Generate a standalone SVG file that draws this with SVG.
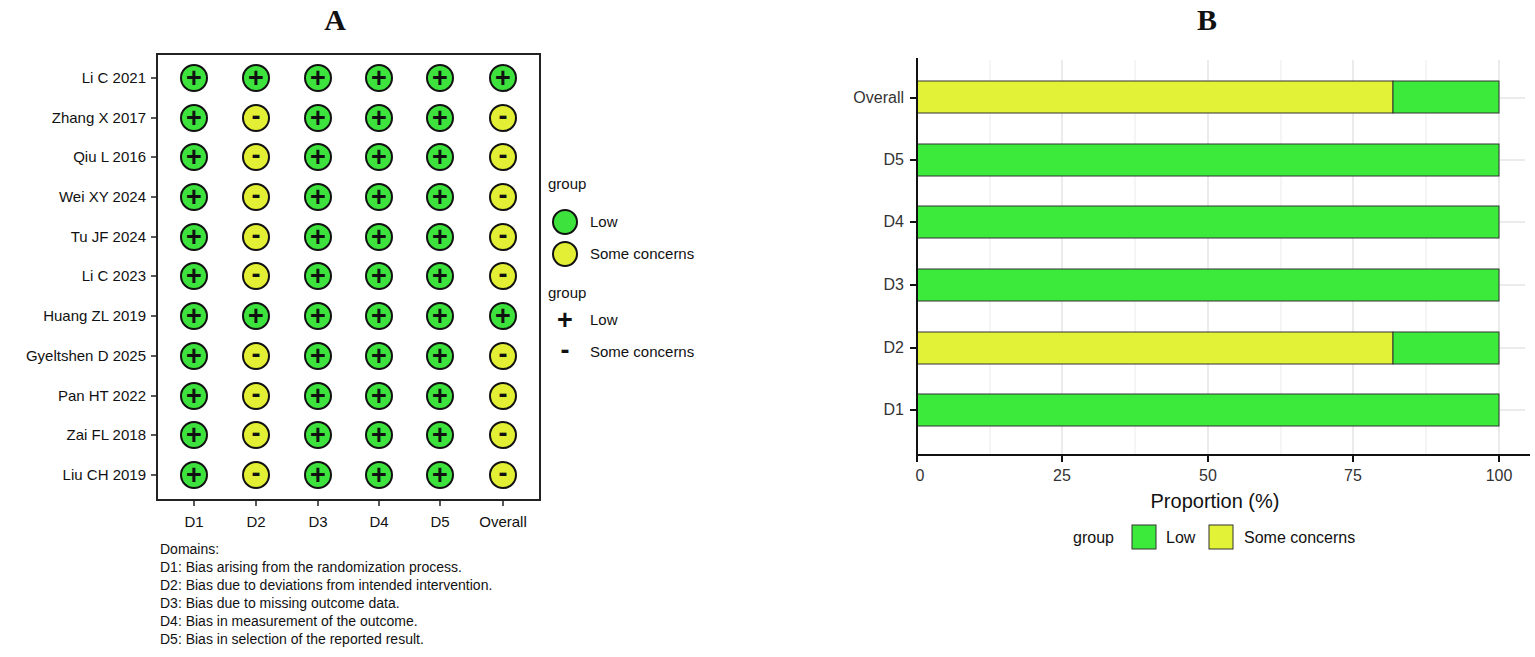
<svg xmlns="http://www.w3.org/2000/svg" width="1535" height="657" viewBox="0 0 1535 657">
<style>
text{font-family:"Liberation Sans",Arial,sans-serif;fill:#111}
.t{font-family:"Liberation Serif","Times New Roman",serif;font-weight:bold;font-size:30px}
.rl{font-size:15px;text-anchor:end}
.cl{font-size:15px;text-anchor:middle}
.dm{font-size:14px}
.lg{font-size:15px}
.g{fill:#3de23d;stroke:#111;stroke-width:2}
.y{fill:#e2ef34;stroke:#111;stroke-width:2}
.s{font-size:27px;font-weight:bold;text-anchor:middle}
.bg{fill:#3bea3b;stroke:#333;stroke-width:1}
.by{fill:#e2f236;stroke:#333;stroke-width:1}
.grid{stroke:#ebebeb;stroke-width:2}
.bl{font-size:16px;text-anchor:end;fill:#333}
.tk{font-size:16px;text-anchor:middle;fill:#333}
</style>
<rect width="1535" height="657" fill="#fff"/>
<text class="t" x="335" y="30" text-anchor="middle">A</text>
<text class="t" x="1207" y="30" text-anchor="middle">B</text>
<g id="panelA">
<rect x="157" y="54" width="383" height="446" fill="#fff" stroke="#222" stroke-width="2"/>
<g stroke="#222" stroke-width="1.5">
<line x1="151" y1="78" x2="157" y2="78"/><line x1="151" y1="118" x2="157" y2="118"/><line x1="151" y1="157" x2="157" y2="157"/><line x1="151" y1="197" x2="157" y2="197"/><line x1="151" y1="237" x2="157" y2="237"/><line x1="151" y1="276" x2="157" y2="276"/><line x1="151" y1="316" x2="157" y2="316"/><line x1="151" y1="356" x2="157" y2="356"/><line x1="151" y1="396" x2="157" y2="396"/><line x1="151" y1="435" x2="157" y2="435"/><line x1="151" y1="475" x2="157" y2="475"/>
<line x1="194" y1="500" x2="194" y2="506"/><line x1="256" y1="500" x2="256" y2="506"/><line x1="318" y1="500" x2="318" y2="506"/><line x1="379" y1="500" x2="379" y2="506"/><line x1="440" y1="500" x2="440" y2="506"/><line x1="503" y1="500" x2="503" y2="506"/>
</g>
<text class="rl" x="146" y="83">Li C 2021</text>
<text class="rl" x="146" y="123">Zhang X 2017</text>
<text class="rl" x="146" y="162">Qiu L 2016</text>
<text class="rl" x="146" y="202">Wei XY 2024</text>
<text class="rl" x="146" y="242">Tu JF 2024</text>
<text class="rl" x="146" y="281">Li C 2023</text>
<text class="rl" x="146" y="321">Huang ZL 2019</text>
<text class="rl" x="146" y="361">Gyeltshen D 2025</text>
<text class="rl" x="146" y="401">Pan HT 2022</text>
<text class="rl" x="146" y="440">Zai FL 2018</text>
<text class="rl" x="146" y="480">Liu CH 2019</text>
<text class="cl" x="194" y="527">D1</text><text class="cl" x="256" y="527">D2</text><text class="cl" x="318" y="527">D3</text><text class="cl" x="379" y="527">D4</text><text class="cl" x="440" y="527">D5</text><text class="cl" x="503" y="527">Overall</text>
<g id="cells">
<g transform="translate(0,78)"><circle class="g" cx="194" r="13"/><circle class="g" cx="256" r="13"/><circle class="g" cx="318" r="13"/><circle class="g" cx="379" r="13"/><circle class="g" cx="440" r="13"/><circle class="g" cx="503" r="13"/>
<text class="s" x="194" y="9">+</text><text class="s" x="256" y="9">+</text><text class="s" x="318" y="9">+</text><text class="s" x="379" y="9">+</text><text class="s" x="440" y="9">+</text><text class="s" x="503" y="9">+</text></g>
<g transform="translate(0,316)"><circle class="g" cx="194" r="13"/><circle class="g" cx="256" r="13"/><circle class="g" cx="318" r="13"/><circle class="g" cx="379" r="13"/><circle class="g" cx="440" r="13"/><circle class="g" cx="503" r="13"/>
<text class="s" x="194" y="9">+</text><text class="s" x="256" y="9">+</text><text class="s" x="318" y="9">+</text><text class="s" x="379" y="9">+</text><text class="s" x="440" y="9">+</text><text class="s" x="503" y="9">+</text></g>
<g transform="translate(0,118)"><circle class="g" cx="194" r="13"/><circle class="y" cx="256" r="13"/><circle class="g" cx="318" r="13"/><circle class="g" cx="379" r="13"/><circle class="g" cx="440" r="13"/><circle class="y" cx="503" r="13"/>
<text class="s" x="194" y="9">+</text><text class="s" x="256" y="7">-</text><text class="s" x="318" y="9">+</text><text class="s" x="379" y="9">+</text><text class="s" x="440" y="9">+</text><text class="s" x="503" y="7">-</text></g>
<g transform="translate(0,157)"><circle class="g" cx="194" r="13"/><circle class="y" cx="256" r="13"/><circle class="g" cx="318" r="13"/><circle class="g" cx="379" r="13"/><circle class="g" cx="440" r="13"/><circle class="y" cx="503" r="13"/>
<text class="s" x="194" y="9">+</text><text class="s" x="256" y="7">-</text><text class="s" x="318" y="9">+</text><text class="s" x="379" y="9">+</text><text class="s" x="440" y="9">+</text><text class="s" x="503" y="7">-</text></g>
<g transform="translate(0,197)"><circle class="g" cx="194" r="13"/><circle class="y" cx="256" r="13"/><circle class="g" cx="318" r="13"/><circle class="g" cx="379" r="13"/><circle class="g" cx="440" r="13"/><circle class="y" cx="503" r="13"/>
<text class="s" x="194" y="9">+</text><text class="s" x="256" y="7">-</text><text class="s" x="318" y="9">+</text><text class="s" x="379" y="9">+</text><text class="s" x="440" y="9">+</text><text class="s" x="503" y="7">-</text></g>
<g transform="translate(0,237)"><circle class="g" cx="194" r="13"/><circle class="y" cx="256" r="13"/><circle class="g" cx="318" r="13"/><circle class="g" cx="379" r="13"/><circle class="g" cx="440" r="13"/><circle class="y" cx="503" r="13"/>
<text class="s" x="194" y="9">+</text><text class="s" x="256" y="7">-</text><text class="s" x="318" y="9">+</text><text class="s" x="379" y="9">+</text><text class="s" x="440" y="9">+</text><text class="s" x="503" y="7">-</text></g>
<g transform="translate(0,276)"><circle class="g" cx="194" r="13"/><circle class="y" cx="256" r="13"/><circle class="g" cx="318" r="13"/><circle class="g" cx="379" r="13"/><circle class="g" cx="440" r="13"/><circle class="y" cx="503" r="13"/>
<text class="s" x="194" y="9">+</text><text class="s" x="256" y="7">-</text><text class="s" x="318" y="9">+</text><text class="s" x="379" y="9">+</text><text class="s" x="440" y="9">+</text><text class="s" x="503" y="7">-</text></g>
<g transform="translate(0,356)"><circle class="g" cx="194" r="13"/><circle class="y" cx="256" r="13"/><circle class="g" cx="318" r="13"/><circle class="g" cx="379" r="13"/><circle class="g" cx="440" r="13"/><circle class="y" cx="503" r="13"/>
<text class="s" x="194" y="9">+</text><text class="s" x="256" y="7">-</text><text class="s" x="318" y="9">+</text><text class="s" x="379" y="9">+</text><text class="s" x="440" y="9">+</text><text class="s" x="503" y="7">-</text></g>
<g transform="translate(0,396)"><circle class="g" cx="194" r="13"/><circle class="y" cx="256" r="13"/><circle class="g" cx="318" r="13"/><circle class="g" cx="379" r="13"/><circle class="g" cx="440" r="13"/><circle class="y" cx="503" r="13"/>
<text class="s" x="194" y="9">+</text><text class="s" x="256" y="7">-</text><text class="s" x="318" y="9">+</text><text class="s" x="379" y="9">+</text><text class="s" x="440" y="9">+</text><text class="s" x="503" y="7">-</text></g>
<g transform="translate(0,435)"><circle class="g" cx="194" r="13"/><circle class="y" cx="256" r="13"/><circle class="g" cx="318" r="13"/><circle class="g" cx="379" r="13"/><circle class="g" cx="440" r="13"/><circle class="y" cx="503" r="13"/>
<text class="s" x="194" y="9">+</text><text class="s" x="256" y="7">-</text><text class="s" x="318" y="9">+</text><text class="s" x="379" y="9">+</text><text class="s" x="440" y="9">+</text><text class="s" x="503" y="7">-</text></g>
<g transform="translate(0,475)"><circle class="g" cx="194" r="13"/><circle class="y" cx="256" r="13"/><circle class="g" cx="318" r="13"/><circle class="g" cx="379" r="13"/><circle class="g" cx="440" r="13"/><circle class="y" cx="503" r="13"/>
<text class="s" x="194" y="9">+</text><text class="s" x="256" y="7">-</text><text class="s" x="318" y="9">+</text><text class="s" x="379" y="9">+</text><text class="s" x="440" y="9">+</text><text class="s" x="503" y="7">-</text></g>
</g>
<text class="dm" x="160" y="554">Domains:</text>
<text class="dm" x="160" y="572">D1: Bias arising from the randomization process.</text>
<text class="dm" x="160" y="590">D2: Bias due to deviations from intended intervention.</text>
<text class="dm" x="160" y="608">D3: Bias due to missing outcome data.</text>
<text class="dm" x="160" y="626">D4: Bias in measurement of the outcome.</text>
<text class="dm" x="160" y="644">D5: Bias in selection of the reported result.</text>
</g>
<g id="legendA">
<text class="lg" x="548" y="189">group</text>
<circle class="g" cx="565" cy="222" r="12"/><text class="lg" x="590" y="227">Low</text>
<circle class="y" cx="565" cy="254" r="12"/><text class="lg" x="590" y="259">Some concerns</text>
<text class="lg" x="548" y="298">group</text>
<text class="s" x="565" y="329">+</text><text class="lg" x="590" y="325">Low</text>
<text class="s" x="565" y="359">-</text><text class="lg" x="590" y="357">Some concerns</text>
</g>
<g id="panelB">
<g class="grid">
<line x1="990" y1="60" x2="990" y2="455" stroke-width="1"/><line x1="1135" y1="60" x2="1135" y2="455" stroke-width="1"/><line x1="1281" y1="60" x2="1281" y2="455" stroke-width="1"/><line x1="1426" y1="60" x2="1426" y2="455" stroke-width="1"/>
<line x1="1062" y1="60" x2="1062" y2="455"/><line x1="1208" y1="60" x2="1208" y2="455"/><line x1="1353" y1="60" x2="1353" y2="455"/><line x1="1499" y1="60" x2="1499" y2="455"/>
<line x1="917" y1="98" x2="1525" y2="98"/><line x1="917" y1="160" x2="1525" y2="160"/><line x1="917" y1="222" x2="1525" y2="222"/><line x1="917" y1="285" x2="1525" y2="285"/><line x1="917" y1="348" x2="1525" y2="348"/><line x1="917" y1="410" x2="1525" y2="410"/>
</g>
<rect class="by" x="917" y="81" width="476" height="32"/><rect class="bg" x="1393" y="81" width="106" height="32"/>
<rect class="bg" x="917" y="144" width="582" height="32"/>
<rect class="bg" x="917" y="206" width="582" height="32"/>
<rect class="bg" x="917" y="269" width="582" height="32"/>
<rect class="by" x="917" y="332" width="476" height="32"/><rect class="bg" x="1393" y="332" width="106" height="32"/>
<rect class="bg" x="917" y="394" width="582" height="32"/>
<g stroke="#111" stroke-width="2">
<line x1="917" y1="58" x2="917" y2="457"/><line x1="916" y1="455" x2="1530" y2="455"/>
<line x1="910" y1="98" x2="917" y2="98"/><line x1="910" y1="160" x2="917" y2="160"/><line x1="910" y1="222" x2="917" y2="222"/><line x1="910" y1="285" x2="917" y2="285"/><line x1="910" y1="348" x2="917" y2="348"/><line x1="910" y1="410" x2="917" y2="410"/>
<line x1="917" y1="455" x2="917" y2="462"/><line x1="1062" y1="455" x2="1062" y2="462"/><line x1="1208" y1="455" x2="1208" y2="462"/><line x1="1353" y1="455" x2="1353" y2="462"/><line x1="1499" y1="455" x2="1499" y2="462"/>
</g>
<text class="bl" x="904" y="103">Overall</text><text class="bl" x="904" y="165">D5</text><text class="bl" x="904" y="227">D4</text><text class="bl" x="904" y="290">D3</text><text class="bl" x="904" y="353">D2</text><text class="bl" x="904" y="415">D1</text>
<text class="tk" x="920" y="481">0</text><text class="tk" x="1062" y="481">25</text><text class="tk" x="1208" y="481">50</text><text class="tk" x="1353" y="481">75</text><text class="tk" x="1499" y="481">100</text>
<text x="1215" y="508" font-size="20" text-anchor="middle" fill="#333">Proportion (%)</text>
<text x="1073" y="543" font-size="16" fill="#333">group</text>
<rect class="bg" x="1132" y="525" width="24" height="24"/><text x="1166" y="543" font-size="16" fill="#333">Low</text>
<rect class="by" x="1209" y="525" width="24" height="24"/><text x="1244" y="543" font-size="16" fill="#333">Some concerns</text>
</g>
</svg>
